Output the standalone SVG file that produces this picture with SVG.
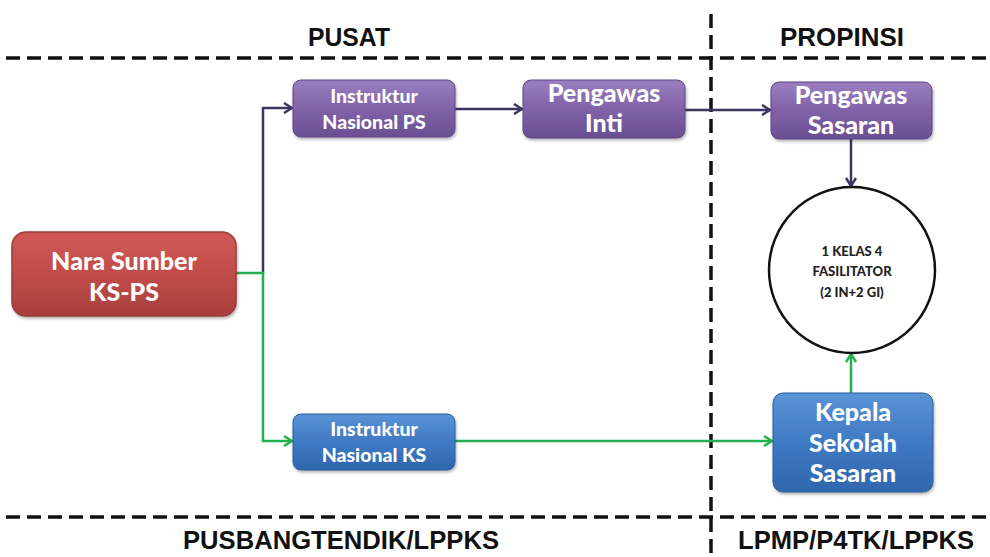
<svg xmlns="http://www.w3.org/2000/svg" width="990" height="557" viewBox="0 0 990 557">
<defs>
<linearGradient id="gPurple" x1="0" y1="0" x2="0" y2="1">
<stop offset="0" stop-color="#9a7fc0"/><stop offset="0.5" stop-color="#8062a8"/><stop offset="1" stop-color="#6a4e92"/>
</linearGradient>
<linearGradient id="gBlue" x1="0" y1="0" x2="0" y2="1">
<stop offset="0" stop-color="#5a93d6"/><stop offset="0.5" stop-color="#3f7ac4"/><stop offset="1" stop-color="#2f66ad"/>
</linearGradient>
<linearGradient id="gRed" x1="0" y1="0" x2="0" y2="1">
<stop offset="0" stop-color="#cf5a57"/><stop offset="0.5" stop-color="#c14c49"/><stop offset="1" stop-color="#a83f3d"/>
</linearGradient>
<marker id="aP" viewBox="0 0 12 12" refX="11" refY="6" markerWidth="12" markerHeight="12" markerUnits="userSpaceOnUse" orient="auto">
<path d="M3,1 L11,6 L3,11" fill="none" stroke="#3f3460" stroke-width="2.5"/>
</marker>
<marker id="aG" viewBox="0 0 12 12" refX="11" refY="6" markerWidth="12" markerHeight="12" markerUnits="userSpaceOnUse" orient="auto">
<path d="M3,1 L11,6 L3,11" fill="none" stroke="#22b14c" stroke-width="2.5"/>
</marker>
<filter id="sh" x="-10%" y="-10%" width="120%" height="130%">
<feDropShadow dx="1" dy="2" stdDeviation="1.5" flood-color="#000" flood-opacity="0.3"/>
</filter>
</defs>
<style>
.hd{font-family:"Liberation Sans",Arial,sans-serif;font-weight:bold;font-size:25px;fill:#111;text-anchor:middle}
.bt{font-family:Lato,"Open Sans",sans-serif;font-weight:900;fill:#fff;text-anchor:middle}
.dash{stroke:#111;stroke-width:3.5;fill:none;stroke-dasharray:14 7}
.cp{stroke:#3f3460;stroke-width:2.5;fill:none}
.cg{stroke:#22b14c;stroke-width:2.5;fill:none}
.ct{font-family:Lato,"Open Sans",sans-serif;font-weight:900;font-size:13px;fill:#222;text-anchor:middle}
</style>
<rect width="990" height="557" fill="#fff"/>
<g id="dividers">
<line class="dash" x1="6" y1="58" x2="990" y2="58"/>
<line class="dash" x1="6" y1="517" x2="990" y2="517"/>
<line class="dash" x1="711" y1="14" x2="711" y2="557" stroke-width="3" stroke-dasharray="16 8"/>
</g>
<g id="labels">
<text class="hd" x="349" y="46" textLength="82" lengthAdjust="spacingAndGlyphs">PUSAT</text>
<text class="hd" x="842" y="46" textLength="124" lengthAdjust="spacingAndGlyphs">PROPINSI</text>
<text class="hd" x="341" y="549" textLength="316" lengthAdjust="spacingAndGlyphs">PUSBANGTENDIK/LPPKS</text>
<text class="hd" x="856" y="549" textLength="236" lengthAdjust="spacingAndGlyphs">LPMP/P4TK/LPPKS</text>
</g>
<g id="connectors">
<polyline class="cp" points="263,273 263,108 292,108" marker-end="url(#aP)"/>
<polyline class="cg" points="236,273 263,273 263,441 292,441" marker-end="url(#aG)"/>
<line class="cp" x1="455" y1="109" x2="522" y2="109" marker-end="url(#aP)"/>
<line class="cp" x1="685" y1="110" x2="770" y2="110" marker-end="url(#aP)"/>
<line class="cp" x1="851" y1="139" x2="851" y2="186" marker-end="url(#aP)"/>
<line class="cg" x1="455" y1="441" x2="772" y2="441" marker-end="url(#aG)"/>
<line class="cg" x1="851" y1="393" x2="851" y2="354" marker-end="url(#aG)"/>
</g>
<g id="nara-sumber">
<rect x="12" y="232" width="224" height="84" rx="14" fill="url(#gRed)" stroke="#9a3b39" stroke-width="1.5" filter="url(#sh)"/>
<text class="bt" x="124" y="270" font-size="25">Nara Sumber</text>
<text class="bt" x="124" y="301" font-size="25">KS-PS</text>
</g>
<g id="instruktur-ps">
<rect x="293" y="80" width="162" height="57" rx="8" fill="url(#gPurple)" stroke="#5e4585" stroke-width="1" filter="url(#sh)"/>
<text class="bt" x="374" y="103" font-size="19.5">Instruktur</text>
<text class="bt" x="374" y="129" font-size="19.5">Nasional  PS</text>
</g>
<g id="pengawas-inti">
<rect x="523" y="80" width="162" height="58" rx="8" fill="url(#gPurple)" stroke="#5e4585" stroke-width="1" filter="url(#sh)"/>
<text class="bt" x="604" y="102" font-size="25">Pengawas</text>
<text class="bt" x="604" y="132" font-size="25">Inti</text>
</g>
<g id="pengawas-sasaran">
<rect x="771" y="82" width="161" height="57" rx="8" fill="url(#gPurple)" stroke="#5e4585" stroke-width="1" filter="url(#sh)"/>
<text class="bt" x="851" y="104" font-size="25">Pengawas</text>
<text class="bt" x="851" y="134" font-size="25">Sasaran</text>
</g>
<g id="kelas">
<circle cx="852" cy="270" r="83" fill="#fff" stroke="#111" stroke-width="2.5"/>
<text class="ct" x="852" y="256">1 KELAS 4</text>
<text class="ct" x="852" y="276">FASILITATOR</text>
<text class="ct" x="852" y="297">(2 IN+2 GI)</text>
</g>
<g id="instruktur-ks">
<rect x="293" y="414" width="162" height="56" rx="8" fill="url(#gBlue)" stroke="#2a5d9c" stroke-width="1" filter="url(#sh)"/>
<text class="bt" x="374" y="436" font-size="19.5">Instruktur</text>
<text class="bt" x="374" y="462" font-size="19.5">Nasional  KS</text>
</g>
<g id="kepala-sekolah">
<rect x="773" y="393" width="160" height="99" rx="10" fill="url(#gBlue)" stroke="#2a5d9c" stroke-width="1" filter="url(#sh)"/>
<text class="bt" x="853" y="421" font-size="25">Kepala</text>
<text class="bt" x="853" y="452" font-size="25">Sekolah</text>
<text class="bt" x="853" y="482" font-size="25">Sasaran</text>
</g>
</svg>
